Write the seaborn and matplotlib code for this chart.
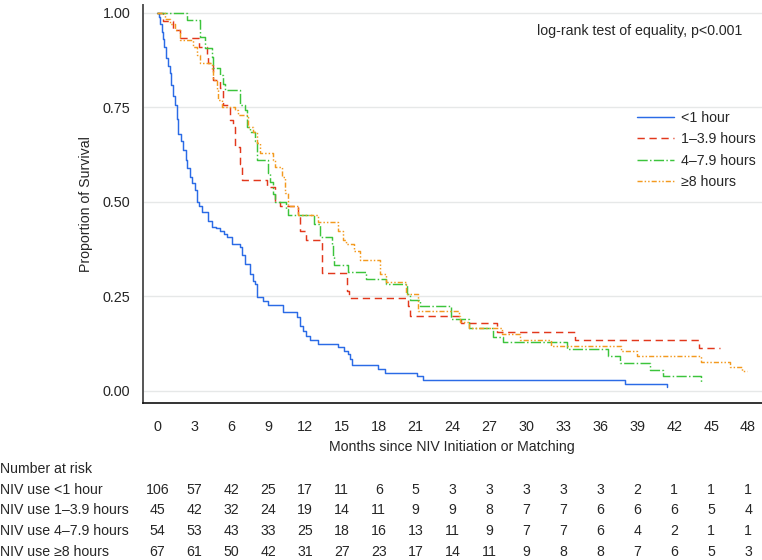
import numpy as np
import pandas as pd
import seaborn as sns
import matplotlib
matplotlib.use("Agg")
import matplotlib.pyplot as plt
from matplotlib.lines import Line2D
import matplotlib.transforms as mtransforms

# ---------------- data ----------------
groups = ["<1 hour", "1\u20133.9 hours", "4\u20137.9 hours", "\u22658 hours"]

t_lt1 = [0, 0.15, 0.25, 0.35, 0.45, 0.55, 0.7, 0.85, 1.0, 1.15, 1.3, 1.45, 1.6, 1.72, 1.9,
         2.13, 2.3, 2.45, 2.66, 2.85, 3.07, 3.2, 3.4, 3.61, 4.15, 4.43, 4.8, 5.1, 5.4, 5.65,
         6.05, 6.73, 6.9, 7.13, 7.54, 7.8, 7.94, 8.13, 8.62, 9.03, 10.25, 11.33, 11.6, 11.87,
         12.1, 12.4, 13.1, 14.7, 15.2, 15.5, 15.65, 15.8, 17.96, 18.5, 21.1, 21.6, 38.0, 41.4]
s_lt1 = [1.0, 0.99, 0.97, 0.95, 0.93, 0.91, 0.88, 0.86, 0.84, 0.81, 0.78, 0.755, 0.72, 0.68, 0.66,
         0.637, 0.61, 0.59, 0.566, 0.55, 0.53, 0.50, 0.49, 0.473, 0.45, 0.433, 0.43, 0.424, 0.415, 0.407,
         0.389, 0.38, 0.36, 0.336, 0.31, 0.29, 0.283, 0.247, 0.237, 0.227, 0.207, 0.194, 0.172, 0.159,
         0.145, 0.133, 0.124, 0.115, 0.106, 0.097, 0.085, 0.068, 0.057, 0.047, 0.038, 0.028, 0.019, 0.011]

t_1_39 = [0, 0.5, 1.3, 1.85, 3.4, 4.02, 4.15, 4.57, 5.1, 5.37, 5.91, 6.18, 6.32, 6.73, 6.86,
          8.95, 9.57, 9.98, 11.46, 11.6, 12.06, 13.36, 15.45, 15.6, 20.4, 20.5, 24.7, 27.6,
          33.9, 44.0, 45.7]
s_1_39 = [1.0, 0.978, 0.955, 0.933, 0.911, 0.889, 0.867, 0.822, 0.80, 0.756, 0.716, 0.698, 0.645, 0.60, 0.557,
          0.54, 0.50, 0.49, 0.464, 0.424, 0.40, 0.311, 0.265, 0.246, 0.225, 0.199, 0.178, 0.155,
          0.134, 0.112, 0.112]

t_4_79 = [0, 2.4, 3.48, 3.88, 4.43, 4.5, 5.1, 5.37, 5.5, 6.73, 7.13, 7.27, 7.54, 7.94, 8.08,
          9.03, 9.16, 9.43, 9.57, 10.5, 10.65, 12.7, 13.2, 14.2, 14.3, 14.4, 15.5, 17.0, 18.6,
          20.3, 20.5, 21.35, 23.9, 25.3, 27.3, 28.1, 33.3, 36.6, 37.6, 40.0, 41.1, 44.2]
s_4_79 = [1.0, 0.981, 0.937, 0.906, 0.884, 0.853, 0.836, 0.813, 0.796, 0.756, 0.743, 0.698, 0.685, 0.66, 0.61,
          0.575, 0.553, 0.52, 0.50, 0.482, 0.464, 0.442, 0.407, 0.385, 0.354, 0.332, 0.314, 0.296, 0.283,
          0.256, 0.241, 0.223, 0.19, 0.166, 0.141, 0.128, 0.11, 0.093, 0.073, 0.056, 0.038, 0.022]

t_ge8 = [0, 0.63, 1.04, 1.45, 1.85, 2.94, 3.2, 3.48, 4.43, 4.57, 4.84, 4.97, 5.24, 6.32, 6.6,
         7.4, 7.81, 8.08, 8.35, 9.43, 9.6, 10.1, 10.4, 10.65, 11.46, 13.1, 14.7, 15.1, 15.3,
         16.0, 16.5, 18.1, 18.6, 20.2, 21.2, 24.5, 24.6, 25.3, 28.0, 29.5, 32.0, 37.7, 39.0,
         44.2, 46.5, 47.5, 47.9]
s_ge8 = [1.0, 0.985, 0.97, 0.955, 0.928, 0.91, 0.889, 0.867, 0.849, 0.822, 0.796, 0.769, 0.751, 0.743, 0.729,
         0.698, 0.685, 0.655, 0.628, 0.61, 0.592, 0.566, 0.522, 0.49, 0.464, 0.446, 0.424, 0.40, 0.387,
         0.371, 0.345, 0.31, 0.288, 0.256, 0.212, 0.199, 0.181, 0.166, 0.149, 0.134, 0.119, 0.106, 0.093,
         0.075, 0.062, 0.053, 0.053]

risk_times = list(range(0, 49, 3))
risk_labels = ["NIV use <1 hour", "NIV use 1\u20133.9 hours", "NIV use 4\u20137.9 hours", "NIV use \u22658 hours"]
risk_lt1 = [106, 57, 42, 25, 17, 11, 6, 5, 3, 3, 3, 3, 3, 2, 1, 1, 1]
risk_1_39 = [45, 42, 32, 24, 19, 14, 11, 9, 9, 8, 7, 7, 6, 6, 6, 5, 4]
risk_4_79 = [54, 53, 43, 33, 25, 18, 16, 13, 11, 9, 7, 7, 6, 4, 2, 1, 1]
risk_ge8 = [67, 61, 50, 42, 31, 27, 23, 17, 14, 11, 9, 8, 8, 7, 6, 5, 3]

yticks = [0.0, 0.25, 0.5, 0.75, 1.0]
xticks = list(range(0, 49, 3))

# ---------------- style ----------------
sns.set_style("white")
plt.rcParams["font.family"] = ["Liberation Sans", "DejaVu Sans"]
plt.rcParams["font.size"] = 10.2

colors = {groups[0]: "#2B6BE6", groups[1]: "#E2381C", groups[2]: "#3CC43C", groups[3]: "#F39A1F"}
dashes = {groups[0]: "", groups[1]: (5.0, 3.2), groups[2]: (7.0, 1.6, 1.0, 1.6),
          groups[3]: (3.5, 1.4, 1.0, 1.4, 1.0, 1.4)}

frames = []
for g, t, s in zip(groups, [t_lt1, t_1_39, t_4_79, t_ge8], [s_lt1, s_1_39, s_4_79, s_ge8]):
    frames.append(pd.DataFrame({"Months": t, "Survival": s, "Group": g}))
df = pd.concat(frames, ignore_index=True)

W, H = 762, 560
fig = plt.figure(figsize=(W / 100, H / 100), dpi=100)
fx = lambda px: px / W
fy = lambda py: 1 - py / H

ax_left, ax_right, ax_top, ax_bot = 142.7, 762, 5, 403.3
ax = fig.add_axes([fx(ax_left), fy(ax_bot), fx(ax_right) - fx(ax_left), fy(ax_top) - fy(ax_bot)])

sns.lineplot(data=df, x="Months", y="Survival", hue="Group", style="Group",
             palette=colors, dashes=dashes, estimator=None, sort=False,
             drawstyle="steps-post", linewidth=1.05, legend=False, ax=ax)

ax.set_xlim(-1.18, 49.13)
ax.set_ylim(-0.0334, 1.021)
ax.set_xticks(xticks)
ax.set_yticks(yticks)
ax.set_yticklabels([f"{v:.2f}" for v in yticks])
for v in yticks:
    ax.axhline(v, color="#E6E8E8", lw=1.0, zorder=0)

for side in ["top", "right"]:
    ax.spines[side].set_visible(False)
ax.spines["left"].set_color("#555555")
ax.spines["left"].set_linewidth(1.4)
ax.spines["bottom"].set_color("#111111")
ax.spines["bottom"].set_linewidth(1.2)
ax.tick_params(axis="x", direction="out", length=5, width=1.0, pad=7, color="#111111", labelsize=10.4)
ax.tick_params(axis="y", direction="out", length=6, width=1.0, pad=3, color="#555555", labelsize=10.4)

ax.set_xlabel("Months since NIV Initiation or Matching", fontsize=10.2)
ax.xaxis.label.set_va("center")
ax.xaxis.set_label_coords(0.5, (fy(447) - fy(ax_bot)) / (fy(ax_top) - fy(ax_bot)))
ax.set_ylabel("Proportion of Survival", fontsize=10.2)
ax.yaxis.set_label_coords((86 - ax_left) / (ax_right - ax_left), 0.5)
ax.yaxis.label.set_va("center")

# legend
handles = []
for g in groups:
    h = Line2D([0], [0], color=colors[g], lw=1.05, linestyle="-")
    if dashes[g]:
        h.set_dashes(dashes[g])
    handles.append(h)
ax.legend(handles, groups, loc="upper left", bbox_to_anchor=(fx(636.7), fy(111)),
          bbox_transform=fig.transFigure, frameon=False, borderpad=0, borderaxespad=0,
          handlelength=2.65, handletextpad=0.5, labelspacing=0.52, fontsize=10.2)

fig.text(fx(742), fy(31), "log-rank test of equality, p<0.001", ha="right", va="center", fontsize=10.2)

# number at risk table
trans = mtransforms.blended_transform_factory(ax.transData, fig.transFigure)
fig.text(fx(0.5), fy(469), "Number at risk", ha="left", va="center", fontsize=10.2)
row_y = [489.5, 510, 531, 552]
for lab, vals, py in zip(risk_labels, [risk_lt1, risk_1_39, risk_4_79, risk_ge8], row_y):
    fig.text(fx(0.5), fy(py), lab, ha="left", va="center", fontsize=10.2)
    for tt, v in zip(risk_times, vals):
        ax.text(tt, fy(py), str(v), transform=trans, ha="center", va="center", fontsize=10.2,
                clip_on=False)

fig.savefig("out.png", dpi=100)
